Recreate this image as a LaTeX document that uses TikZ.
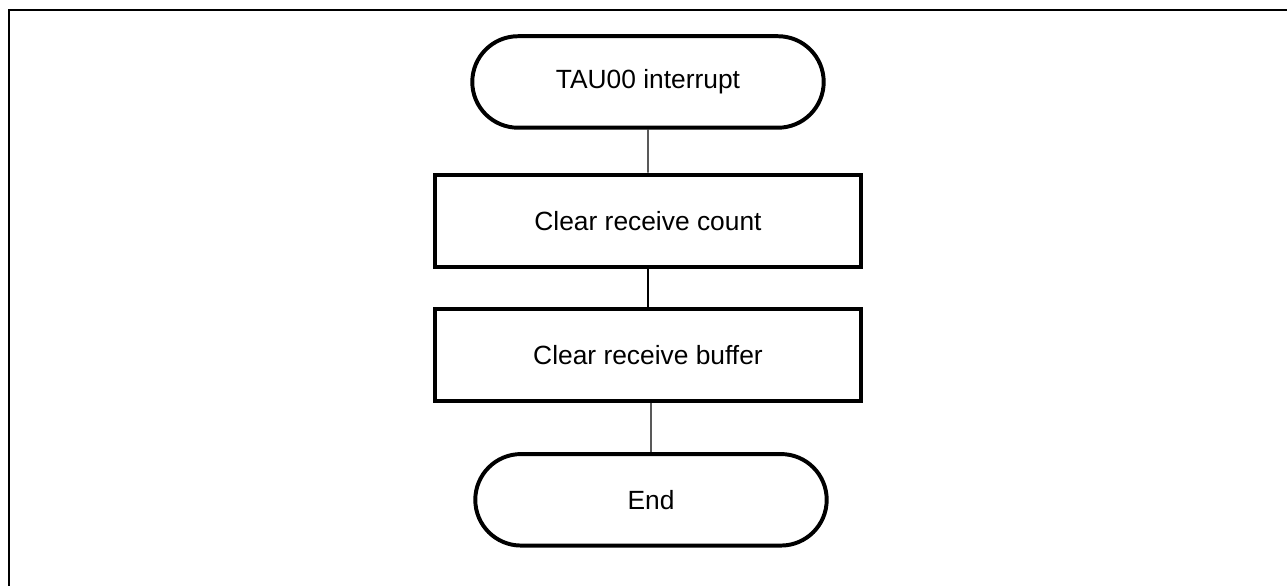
\documentclass[tikz,border=0pt]{standalone}
\usepackage{fontspec}
\setmainfont{Liberation Sans}
\usepackage{tikz}
\usetikzlibrary{positioning}
\usetikzlibrary{shapes.misc}

\tikzset{
  terminal/.style={rounded rectangle, draw, line width=1.5pt, minimum width=4.92cm, minimum height=1.22cm, font=\fontsize{10}{12}\selectfont},
  process/.style={rectangle, draw, line width=1.5pt, minimum width=5.68cm, minimum height=1.23cm, font=\fontsize{10}{12}\selectfont},
  flow/.style={draw, line width=0.4pt}
}

\begin{document}
\begin{tikzpicture}
  \useasboundingbox (0,0) rectangle (17.16,-7.813);
  % frame
  \coordinate (ftr) at (17.16,-0.133);
  \coordinate (ftl) at (0.12,-0.133);
  \coordinate (fbl) at (0.12,-7.813);
  \draw[line width=0.8pt] (ftr) -- (ftl) -- (fbl);

  \node[terminal] (start) at (8.64,-1.093) {TAU00 interrupt};
  \node[process, below=0.573cm of start] (count) {Clear receive count};
  \node[process, below=0.507cm of count] (buffer) {Clear receive buffer};
  \node[terminal, below=0.653cm of buffer, xshift=0.04cm] (end) {End};

  \path[flow] (start) -- (count);
  \path[flow] (count) -- (buffer);
  \path[flow] (buffer.south -| end.north) -- (end);
\end{tikzpicture}
\end{document}
